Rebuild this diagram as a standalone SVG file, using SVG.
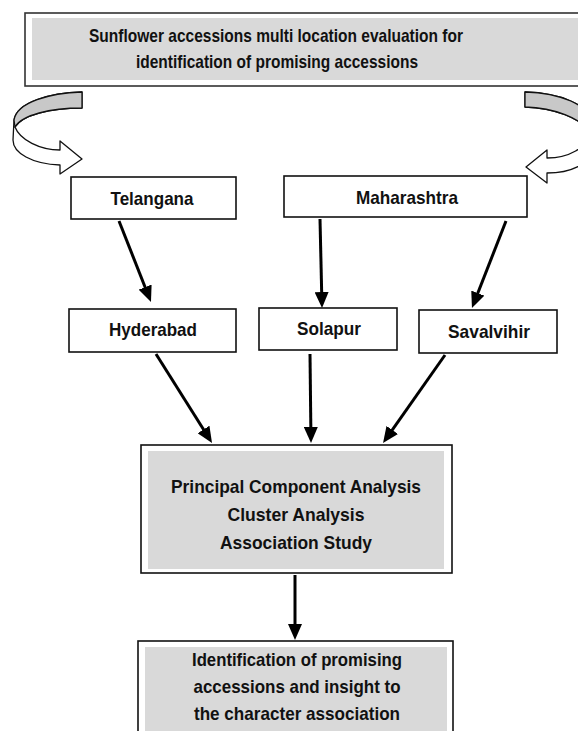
<svg xmlns="http://www.w3.org/2000/svg" width="578" height="731" viewBox="0 0 578 731">
<style>
.box{fill:#ffffff;stroke:#111;stroke-width:1.6}
.outer{fill:#ffffff;stroke:#333;stroke-width:1.6}
.gray{fill:#d9d9d9;stroke:none}
.t{font-family:"Liberation Sans",Arial,sans-serif;font-weight:bold;font-size:18.5px;fill:#111;text-anchor:middle}
.c{fill:none;stroke:#000;stroke-width:3}
.curv{fill:#fff;stroke:#111;stroke-width:1.3;stroke-linejoin:round}
.curvg{fill:#c8c8c8;stroke:#111;stroke-width:1.3;stroke-linejoin:round}
</style>
<defs>
<marker id="ah" viewBox="0 0 16 14" refX="6" refY="7" markerWidth="16" markerHeight="14" markerUnits="userSpaceOnUse" orient="auto">
<path d="M0,0 L16,7 L0,14 Z" fill="#000"/>
</marker>
</defs>

<g id="top">
<rect class="outer" x="25" y="13" width="570" height="73"/>
<rect class="gray" x="32" y="18" width="560" height="62"/>
<text class="t" x="276" y="42" textLength="374" lengthAdjust="spacingAndGlyphs">Sunflower accessions multi location evaluation for</text>
<text class="t" x="277" y="68" textLength="282" lengthAdjust="spacingAndGlyphs">identification of promising accessions</text>
</g>

<g id="curve-left">
<path class="curv" d="M82,92 L82,108 C50,108 22,115 15,127 C20,140 40,150 60,150 L60,141 L82,159 L60,174 L60,165 C32,164 13,153 13,140 L14,120 C17,102 50,93 82,92 Z"/>
<path class="curvg" d="M82,92 L82,108 C50,108 22,115 15,127 L14,120 C17,102 50,93 82,92 Z"/>
</g>

<g id="curve-right">
<path class="curv" d="M525,92 C560,93 590,105 591,122 L592,148 C590,165 570,173 547,173 L547,183 L526,167 L547,150 L547,158 C568,158 588,148 590,132 C580,118 555,108 525,107 Z"/>
<path class="curvg" d="M525,92 C560,93 590,105 591,122 L590,132 C580,118 555,108 525,107 Z"/>
</g>

<g id="telangana">
<rect class="box" x="71" y="177" width="165" height="42"/>
<text class="t" x="152" y="205" textLength="83" lengthAdjust="spacingAndGlyphs">Telangana</text>
</g>
<g id="maharashtra">
<rect class="box" x="284" y="176" width="243" height="41"/>
<text class="t" x="407" y="204" textLength="102" lengthAdjust="spacingAndGlyphs">Maharashtra</text>
</g>
<g id="hyderabad">
<rect class="box" x="69" y="309" width="167" height="43"/>
<text class="t" x="153" y="336" textLength="88" lengthAdjust="spacingAndGlyphs">Hyderabad</text>
</g>
<g id="solapur">
<rect class="box" x="259" y="308" width="138" height="42"/>
<text class="t" x="329" y="335" textLength="64" lengthAdjust="spacingAndGlyphs">Solapur</text>
</g>
<g id="savalvihir">
<rect class="box" x="419" y="310" width="138" height="43"/>
<text class="t" x="489" y="338" textLength="82" lengthAdjust="spacingAndGlyphs">Savalvihir</text>
</g>

<g id="analysis">
<rect class="box" x="141" y="445" width="311" height="128"/>
<rect class="gray" x="148" y="451" width="296" height="118"/>
<text class="t" x="296" y="493" textLength="250" lengthAdjust="spacingAndGlyphs">Principal Component Analysis</text>
<text class="t" x="296" y="521" textLength="137" lengthAdjust="spacingAndGlyphs">Cluster Analysis</text>
<text class="t" x="296" y="549" textLength="152" lengthAdjust="spacingAndGlyphs">Association Study</text>
</g>

<g id="identification">
<rect class="box" x="138" y="641" width="315" height="100"/>
<rect class="gray" x="145" y="647" width="302" height="90"/>
<text class="t" x="297" y="666" textLength="210" lengthAdjust="spacingAndGlyphs">Identification of promising</text>
<text class="t" x="297" y="693" textLength="207" lengthAdjust="spacingAndGlyphs">accessions and insight to</text>
<text class="t" x="297" y="720" textLength="206" lengthAdjust="spacingAndGlyphs">the character association</text>
</g>

<g id="connectors">
<line class="c" x1="119" y1="221" x2="147.3" y2="292.7" marker-end="url(#ah)"/>
<line class="c" x1="320" y1="219" x2="321.8" y2="298" marker-end="url(#ah)"/>
<line class="c" x1="506" y1="221" x2="475.6" y2="298.7" marker-end="url(#ah)"/>
<line class="c" x1="156" y1="354" x2="206.7" y2="434.5" marker-end="url(#ah)"/>
<line class="c" x1="310" y1="354" x2="310.9" y2="433" marker-end="url(#ah)"/>
<line class="c" x1="445" y1="355" x2="388.8" y2="434.8" marker-end="url(#ah)"/>
<line class="c" x1="295" y1="575" x2="295" y2="630" marker-end="url(#ah)"/>
</g>
</svg>
